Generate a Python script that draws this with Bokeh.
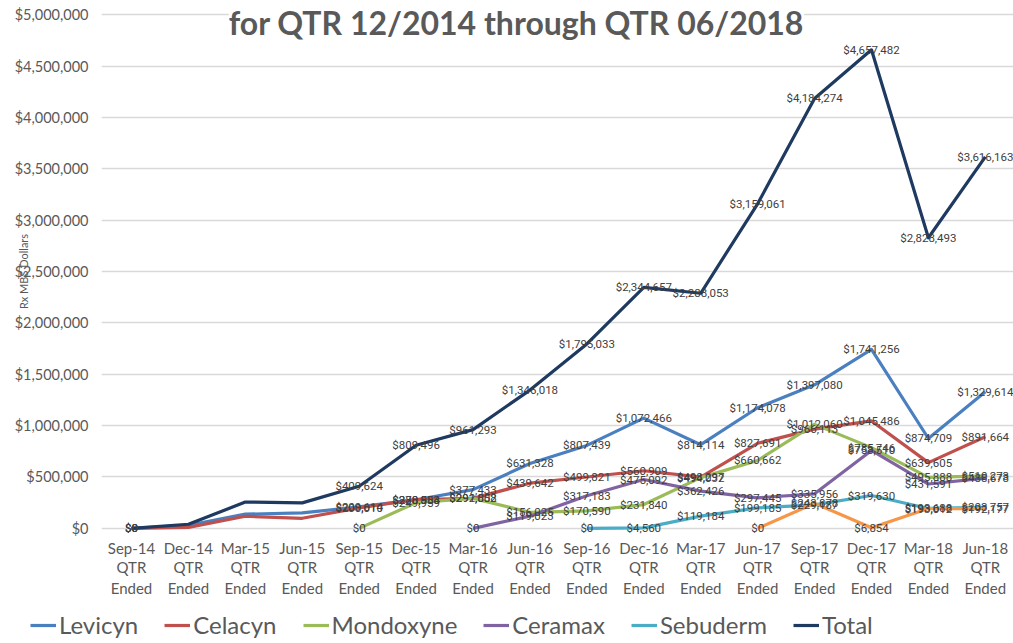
from bokeh.plotting import figure
from bokeh.layouts import column
from bokeh.models import (ColumnDataSource, LabelSet, Label, Legend, LegendItem,
                          FixedTicker, NumeralTickFormatter, Range1d, LinearAxis)
from bokeh.embed import file_html
from bokeh.resources import INLINE
from bokeh.core.properties import value

# ---------------- data ----------------
quarters = ["Sep-14", "Dec-14", "Mar-15", "Jun-15", "Sep-15", "Dec-15", "Mar-16", "Jun-16",
            "Sep-16", "Dec-16", "Mar-17", "Jun-17", "Sep-17", "Dec-17", "Mar-18", "Jun-18"]
quarter_suffix = ["QTR", "Ended"]

levicyn = [0, 30000, 138000, 150000, 209614, 278953, 377433, 631328, 807439, 1072466,
           814114, 1174078, 1397080, 1741256, 874709, 1329614]
celacyn = [0, 10000, 118000, 98000, 200010, 280584, 291802, 439642, 499821, 560909,
           498297, 827691, 966113, 1045486, 639605, 891664]
mondoxyne = [None, None, None, None, 0, 249959, 292058, 156025, 170590, 231840,
             494032, 660662, 1012060, 785746, 495888, 510273]
ceramax = [None, None, None, None, None, None, 0, 119023, 317183, 475092,
           362426, 297445, 335956, 758510, 431591, 488678]
sebuderm = [None, None, None, None, None, None, None, None, 0, 4560,
            119184, 199185, 229187, 319630, 193688, 203757]
unlisted = [None, None, None, None, None, None, None, None, None, None,
            None, 0, 243878, 6854, 193012, 192177]
total = [0, 40000, 256000, 248000, 409624, 809496, 961293, 1346018, 1795033, 2344657,
         2288053, 3159061, 4184274, 4657482, 2828493, 3616163]

unlabeled_quarters = ["Dec-14", "Mar-15", "Jun-15"]

series_names = ["Levicyn", "Celacyn", "Mondoxyne", "Ceramax", "Sebuderm", "Total"]
title_text = "for QTR 12/2014 through QTR 06/2018"
y_title = "Rx MBS Dollars"
y_ticks = [0, 500000, 1000000, 1500000, 2000000, 2500000, 3000000, 3500000,
           4000000, 4500000, 5000000]

# ---------------- styles ----------------
colors = {
    "Levicyn": "#4A7FC0",
    "Celacyn": "#C0504D",
    "Mondoxyne": "#9BBB59",
    "Ceramax": "#8064A2",
    "Sebuderm": "#4BACC6",
    "Total": "#1F3A60",
    "unlisted": "#F79646",
}
LABEL_FONT = "Roboto"
MAIN_FONT = "Lato"
GRAY = "#595959"

p = figure(width=1013, height=608, output_backend="svg", toolbar_location=None,
           x_range=Range1d(-0.527, 15.495), y_range=Range1d(-50000, 5050000),
           min_border_left=101, min_border_right=0, min_border_top=9,
           min_border_bottom=75)
p.outline_line_color = None
p.background_fill_color = "white"
p.border_fill_color = "white"
p.xgrid.grid_line_color = None
p.ygrid.grid_line_color = "#D9D9D9"
p.ygrid.grid_line_width = 1.5
p.ygrid.ticker = FixedTicker(ticks=y_ticks)

p.yaxis.ticker = FixedTicker(ticks=y_ticks)
p.yaxis.formatter = NumeralTickFormatter(format="$0,0")
p.yaxis.axis_line_color = None
p.yaxis.major_tick_line_color = None
p.yaxis.minor_tick_line_color = None
p.yaxis.major_tick_out = 0
p.yaxis.major_label_text_font = MAIN_FONT
p.yaxis.major_label_text_font_size = "14.5px"
p.yaxis.major_label_text_color = GRAY
p.yaxis.major_label_standoff = 13
p.yaxis.axis_label = y_title
p.yaxis.axis_label_text_font = MAIN_FONT
p.yaxis.axis_label_text_font_size = "11px"
p.yaxis.axis_label_text_font_style = "normal"
p.yaxis.axis_label_text_color = GRAY
p.yaxis.axis_label_standoff = -18

x_idx = list(range(len(quarters)))


def style_xaxis(ax, labels, standoff):
    ax.ticker = FixedTicker(ticks=x_idx)
    ax.major_label_overrides = {i: t for i, t in enumerate(labels)}
    ax.axis_line_color = None
    ax.major_tick_line_color = None
    ax.minor_tick_line_color = None
    ax.major_tick_out = 0
    ax.major_tick_in = 0
    ax.minor_tick_out = 0
    ax.major_label_text_font = MAIN_FONT
    ax.major_label_text_font_size = "15px"
    ax.major_label_text_color = GRAY
    ax.major_label_standoff = standoff


style_xaxis(p.xaxis[0], quarters, 5)
for suffix, so in zip(quarter_suffix, (-2, 0)):
    extra = LinearAxis()
    style_xaxis(extra, [suffix] * len(quarters), so)
    p.add_layout(extra, "below")


def fmt(v):
    return "${:,.0f}".format(v)


all_series = [("Levicyn", levicyn), ("Celacyn", celacyn), ("Mondoxyne", mondoxyne),
              ("Ceramax", ceramax), ("Sebuderm", sebuderm), ("Total", total),
              ("unlisted", unlisted)]

for name, vals in all_series:
    ys = [float("nan") if v is None else v for v in vals]
    src = ColumnDataSource(dict(x=x_idx, y=ys))
    p.line("x", "y", source=src, line_color=colors[name], line_width=3.2,
           line_join="round")

for name, vals in all_series:
    lx, ly, lt = [], [], []
    for i, v in enumerate(vals):
        if v is None or quarters[i] in unlabeled_quarters:
            continue
        lx.append(i)
        ly.append(v)
        lt.append(fmt(v))
    lsrc = ColumnDataSource(dict(x=lx, y=ly, t=lt))
    p.add_layout(LabelSet(x="x", y="y", text="t", source=lsrc,
                          text_align="center", text_baseline="middle",
                          text_font=value(LABEL_FONT), text_font_size="11.5px",
                          text_color="#404040"))

# title
p.add_layout(Label(x=6.763, y=4924000, text=title_text, text_align="center",
                   text_baseline="middle", text_font=MAIN_FONT,
                   text_font_size="32px", text_font_style="bold",
                   text_color=GRAY, background_fill_color="white"))

# ---------------- legend strip ----------------
lg = figure(width=1013, height=35, output_backend="svg", toolbar_location=None,
            x_range=Range1d(0, 1), y_range=Range1d(0, 1),
            min_border_left=0, min_border_right=0, min_border_top=0, min_border_bottom=0)
lg.axis.visible = False
lg.grid.visible = False
lg.outline_line_color = None
lg.border_fill_color = "white"
legend_x = 0
if "frame_align" in lg.properties():
    lg.frame_align = False
    p.frame_align = False
    legend_x = 30
items = []
for n in series_names:
    r = lg.line(x=[-5, -4], y=[-5, -5], line_color=colors[n], line_width=3.2)
    items.append(LegendItem(label=n, renderers=[r]))
legend = Legend(items=items, orientation="horizontal", location=(legend_x, 4),
                label_text_font=MAIN_FONT, label_text_font_size="24px",
                label_text_color=GRAY, glyph_width=26, glyph_height=24,
                label_height=24, label_standoff=3, spacing=26, padding=0, margin=0,
                border_line_color=None, background_fill_alpha=0)
lg.add_layout(legend, "center")

layout = column(p, lg, spacing=0)
open("out.html", "w").write(file_html(layout, INLINE))
